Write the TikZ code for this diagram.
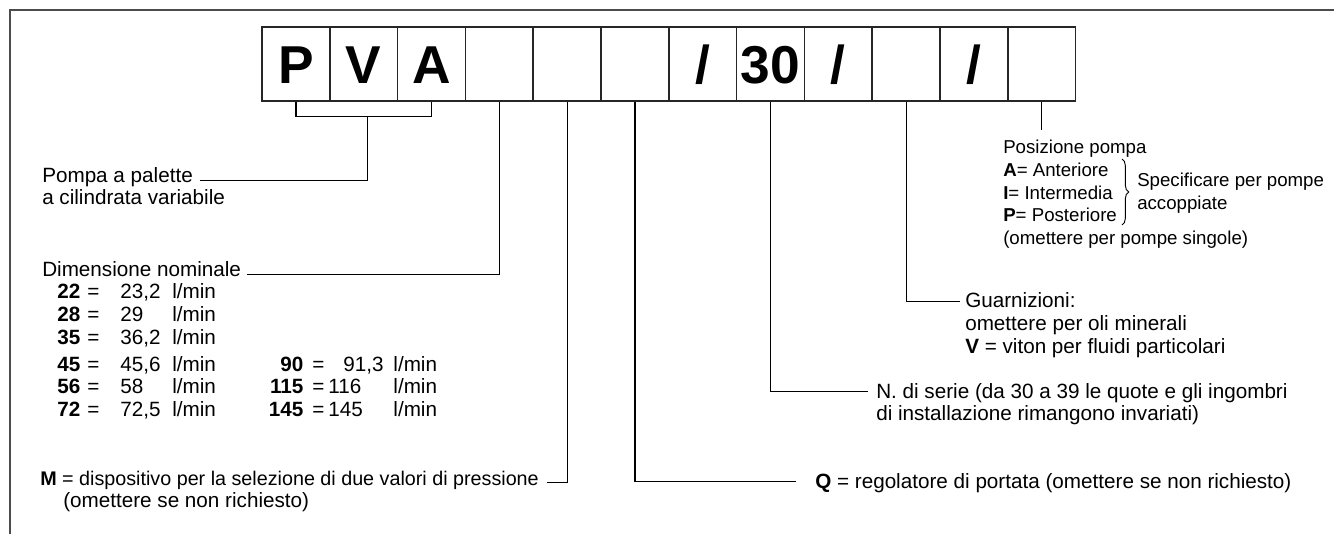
\documentclass[tikz,border=0pt]{standalone}
\usepackage{fontspec}
\setmainfont{Liberation Sans}
\usepackage{tikz}
\usetikzlibrary{decorations.pathreplacing}
\tikzset{
  cell/.style={draw=black!85, line width=1.1pt, minimum width=50.85pt, minimum height=55.5pt,
    inner sep=0pt, font=\fontsize{40}{44}\selectfont\bfseries, text height=28.6pt, text depth=0pt},
  lbl/.style={inner sep=0pt, anchor=base west, font=\fontsize{15.5}{16.9}\selectfont},
  wire/.style={line width=0.9pt}
}

\begin{document}
\begin{tikzpicture}[x=0.75pt,y=-0.75pt]
\useasboundingbox (0,0) rectangle (1334,534);
\draw[black!70, line width=1.1pt] (10,534) -- (10,10) -- (1334,10);

% code boxes
\foreach \c [count=\i] in {P,V,A,{},{},{},/,30,/,{},/,{}}
  \node[cell] (b\i) at ({295.9+67.8*(\i-1)},64) {\c};

\draw[wire] (b1.south) -- ++(0,15) coordinate (brk) -| (b3.south);

\node[lbl] (pompa) at (42,183) {Pompa a palette};
\node[lbl] (pompa2) at (42,205) {a cilindrata variabile};
\draw[wire] ([xshift=5pt,yshift=2pt]pompa.base east) -| ([xshift=3pt]b2.south |- brk);

\node[lbl] (dim) at (42,277) {Dimensione nominale};
\draw[wire] ([xshift=4pt,yshift=2pt]dim.base east) -| (b4.south);

\node[lbl] (sizes) at (57,299) {\begin{tabular}[t]{@{}r@{\hspace{5.25pt}}l@{\hspace{15.75pt}}p{39pt}@{}l@{\hspace{39.7pt}}r@{\hspace{6.75pt}}l@{\hspace{3pt}}p{48.75pt}@{}l@{}}
\textbf{22} & = & 23,2 & l/min \\
\textbf{28} & = & 29 & l/min \\
\textbf{35} & = & 36,2 & l/min \\[3.4pt]
\textbf{45} & = & 45,6 & l/min & \textbf{90} & = & \hspace*{11.25pt}91,3 & l/min \\
\textbf{56} & = & 58 & l/min & \textbf{115} & = & 116 & l/min \\
\textbf{72} & = & 72,5 & l/min & \textbf{145} & = & 145 & l/min
\end{tabular}};

\node[lbl, font=\fontsize{14.8}{16.9}\selectfont] (msel) at (40,485) {\textbf{M} = dispositivo per la selezione di due valori di pressione};
\node[lbl] (msel2) at (63,507) {(omettere se non richiesto)};
\draw[wire] ([xshift=6pt,yshift=2pt]msel.base east) -| (b5.south);

\node[lbl] (qreg) at (815,488) {\textbf{Q} = regolatore di portata (omettere se non richiesto)};
\draw[wire] (b6.south) |- ([xshift=-14pt,yshift=5pt]qreg.base west);

\node[lbl] (serie) at (876,398) {\begin{tabular}[t]{@{}l@{}}N. di serie (da 30 a 39 le quote e gli ingombri\\di installazione rimangono invariati)\end{tabular}};
\draw[wire] (b8.south) |- ([xshift=-6pt,yshift=5pt]serie.base west);

\node[lbl] (guar) at (965,308) {\begin{tabular}[t]{@{}l@{}}Guarnizioni:\\omettere per oli minerali\\\textbf{V} = viton per fluidi particolari\end{tabular}};
\draw[wire] (b10.south) |- ([xshift=-4pt,yshift=5pt]guar.base west);

% pump position
\node[lbl, font=\fontsize{14}{16.9}\selectfont, inner ysep=6pt] (pos) at (1003,154) {\begin{tabular}[t]{@{}l@{}}Posizione pompa\\\textbf{A}= Anteriore\\\textbf{I}= Intermedia\\\textbf{P}= Posteriore\\(omettere per pompe singole)\end{tabular}};
\draw[wire] (b12.south) -- (b12.south |- pos.north);

\draw[line width=0.7pt, decorate, decoration={brace, amplitude=5pt}] (1122,159) -- (1122,225);
\node[lbl, font=\fontsize{14}{16.9}\selectfont] (spec) at (1137,187) {\begin{tabular}[t]{@{}l@{}}Specificare per pompe\\accoppiate\end{tabular}};
\end{tikzpicture}
\end{document}
